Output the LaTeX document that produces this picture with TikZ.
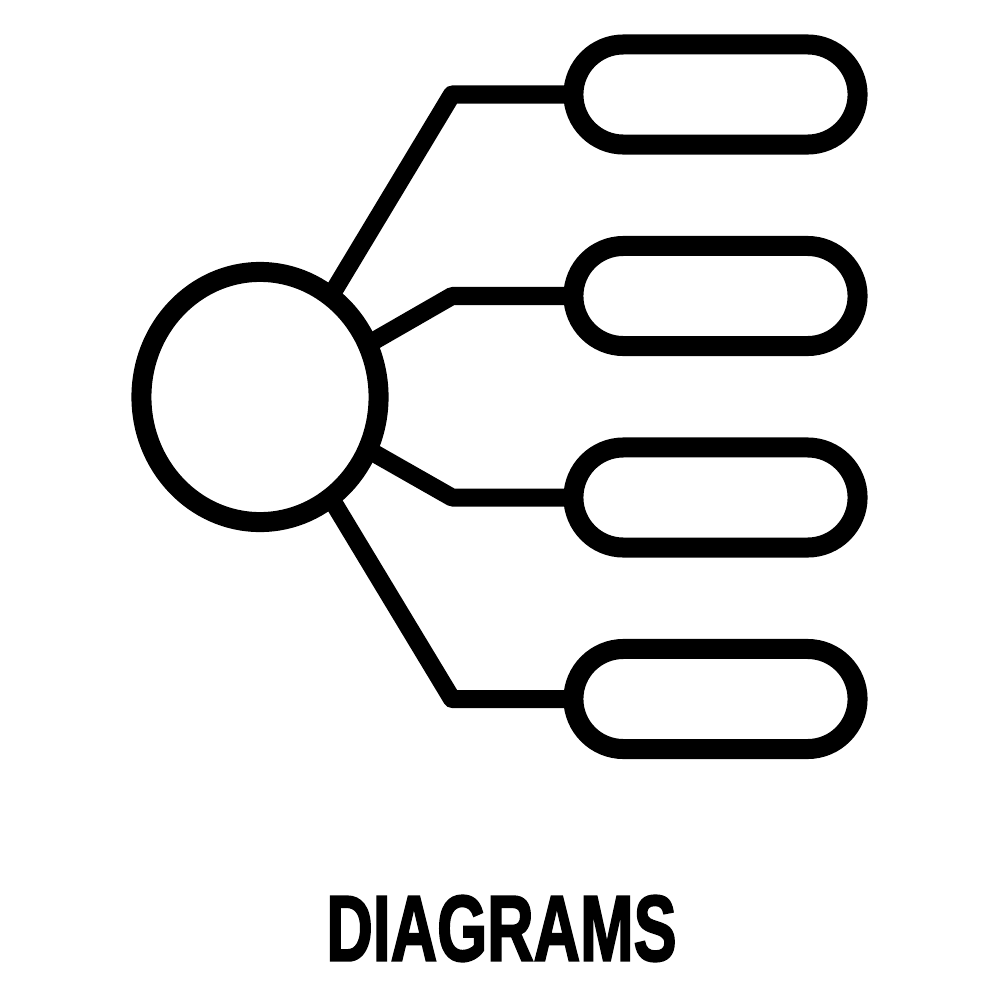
\documentclass[tikz,border=0pt]{standalone}
\usepackage{fontspec}
\usepackage{graphicx}
\setmainfont{Liberation Sans}
\newfontfamily\titlefont{Liberation Sans}[BoldFeatures={FakeBold=2.5}]
\usetikzlibrary{calc,shapes.geometric}
\begin{document}
\begin{tikzpicture}[x=0.01cm,y=-0.01cm,
  shapeline/.style={draw=black,line width=0.2cm,inner sep=0pt,outer sep=0pt},
  hub/.style={shapeline,ellipse,minimum width=2.37cm,minimum height=2.5cm},
  pill/.style={shapeline,rectangle,rounded corners=0.5cm,minimum width=2.84cm,minimum height=1.0cm},
  link/.style={draw=black,line width=0.18cm,line join=round}]
\useasboundingbox (0,0) rectangle (1000,1000);
\node[hub] (c) at (260,397) {};
\node[pill] (p1) at (715.5,94.5) {};
\node[pill] (p2) at (715.5,296) {};
\node[pill] (p3) at (715.5,497.5) {};
\node[pill] (p4) at (715.5,699) {};
\coordinate (k1) at (452,94.5);
\coordinate (k2) at (452,296);
\coordinate (k3) at (452,497.5);
\coordinate (k4) at (452,699);
\draw[link] (c.55) -- (k1) -- (p1.west);
\draw[link] (c.26) -- (k2) -- (p2.west);
\draw[link] (c.-26) -- (k3) -- (p3.west);
\draw[link] (c.-55) -- (k4) -- (p4.west);
\node[inner sep=0pt,outer sep=0pt] (t) at (501.5,928.5) {\resizebox{3.5cm}{0.65cm}{\titlefont\bfseries DIAGRAMS}};
\end{tikzpicture}
\end{document}
